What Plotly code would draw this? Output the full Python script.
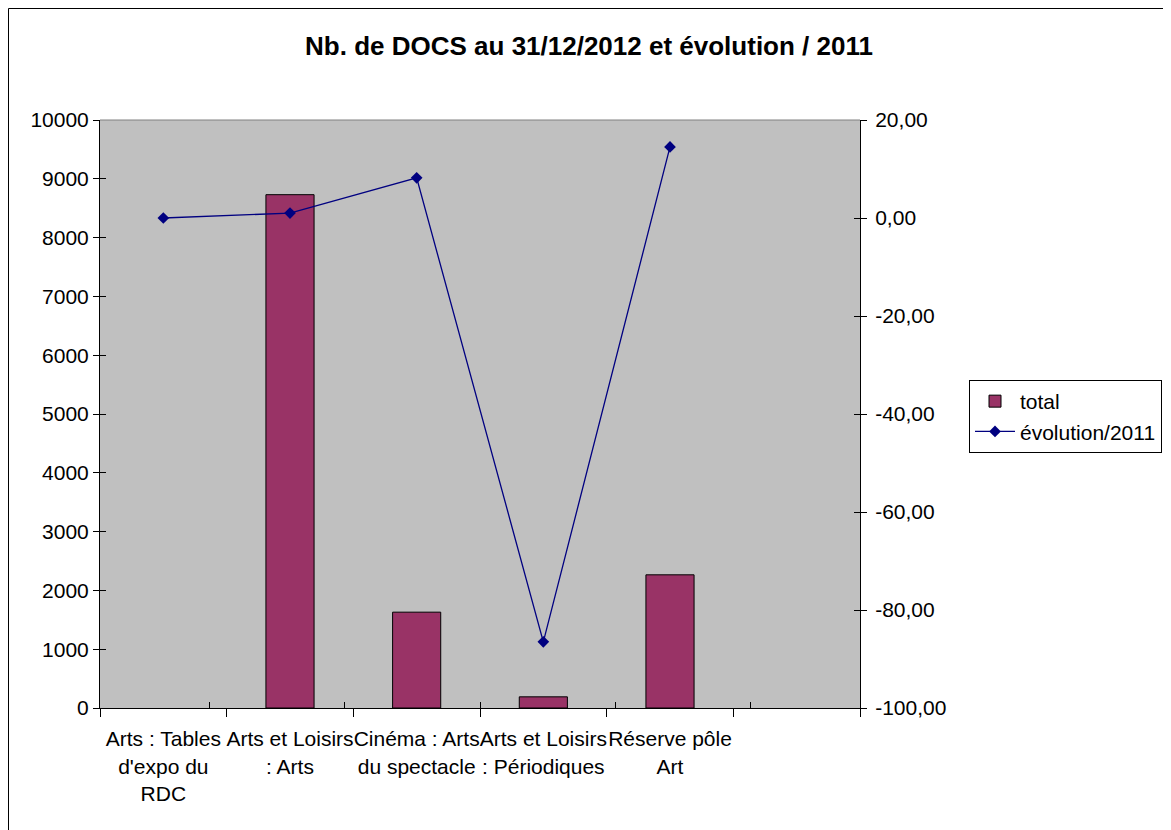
import plotly.graph_objects as go

categories = [
    "Arts : Tables<br>d'expo du<br>RDC",
    "Arts et Loisirs<br>: Arts",
    "Cinéma : Arts<br>du spectacle",
    "Arts et Loisirs<br>: Périodiques",
    "Réserve pôle<br>Art",
    " ",
]
total = [None, 8730, 1630, 190, 2265, None]
evolution = [0.0, 1.0, 8.2, -86.5, 14.5, None]
right_ticks = [-100, -80, -60, -40, -20, 0, 20]
right_labels = ["-100,00", "-80,00", "-60,00", "-40,00", "-20,00", "0,00", "20,00"]

FONT = "Liberation Sans, Arial, sans-serif"
W, H = 1171, 830
# the page body adds an 8px offset, so targets are shifted back by 8
OFF = 8
L, T = 100 - OFF, 120 - OFF
R, B = W - (860 - OFF), H - (708 - OFF)
plot_w = W - L - R
plot_h = H - T - B

fig = go.Figure()
fig.add_trace(go.Bar(
    name="total",
    x=categories,
    y=total,
    marker=dict(color="#993366", line=dict(color="black", width=1)),
))
fig.add_trace(go.Scatter(
    name="évolution/2011",
    x=categories,
    y=evolution,
    yaxis="y2",
    mode="lines+markers",
    line=dict(color="#000080", width=1.3),
    marker=dict(symbol="diamond", size=9, color="#000080"),
))
# invisible helpers so the inner-tick axes get drawn
fig.add_trace(go.Scatter(x=categories, y=[None] * len(categories),
                         xaxis="x2", yaxis="y3", showlegend=False,
                         hoverinfo="skip", mode="markers"))
fig.add_trace(go.Scatter(x=categories, y=[None] * len(categories),
                         yaxis="y4", showlegend=False,
                         hoverinfo="skip", mode="markers"))

axis_common = dict(
    ticks="outside",
    ticklen=6,
    tickcolor="black",
    showline=True,
    linecolor="black",
    showgrid=False,
    zeroline=False,
)
inner_ticks = dict(
    ticks="inside",
    ticklen=6,
    tickcolor="black",
    showticklabels=False,
    showline=False,
    showgrid=False,
    zeroline=False,
)

fig.update_layout(
    width=W,
    height=H,
    separators=", ",
    paper_bgcolor="white",
    plot_bgcolor="#C0C0C0",
    font=dict(family=FONT, size=21, color="black"),
    margin=dict(l=L, r=R, t=T, b=B),
    bargap=0.62,
    title=dict(
        text="<b>Nb. de DOCS au 31/12/2012 et évolution / 2011</b>",
        x=(589 - OFF) / W, xref="container", xanchor="center",
        y=1 - (46 - OFF) / H, yref="container", yanchor="middle",
        font=dict(family=FONT, size=26),
    ),
    xaxis=dict(
        type="category",
        tickson="boundaries",
        tickangle=0,
        ticks="outside",
        ticklen=8,
        tickcolor="black",
        showline=True,
        linecolor="black",
        showgrid=False,
        ticklabelstandoff=12,
    ),
    xaxis2=dict(type="category", overlaying="x", side="bottom",
                tickson="boundaries", anchor="y3", **inner_ticks),
    yaxis=dict(range=[0, 10000], dtick=1000, tickformat="d", **axis_common),
    yaxis2=dict(overlaying="y", side="right", range=[-100, 20],
                tickvals=right_ticks, ticktext=right_labels,
                ticklabelstandoff=4, **axis_common),
    yaxis3=dict(range=[0, 10000], dtick=1000, side="left", overlaying="y",
                **inner_ticks),
    yaxis4=dict(range=[-100, 20], dtick=20, side="right", overlaying="y",
                **inner_ticks),
    legend=dict(
        x=(969 - OFF - L) / plot_w,
        y=(H - B - (380 - OFF)) / plot_h,
        xanchor="left", yanchor="top",
        bgcolor="white",
        bordercolor="black",
        borderwidth=1,
        font=dict(size=21),
        itemwidth=40,
    ),
    showlegend=True,
)

# top border of plot area (grey) and outer chart border
fig.add_shape(type="line", xref="paper", yref="paper",
              x0=0, x1=1, y0=1, y1=1, line=dict(color="#808080", width=1))
fig.add_shape(type="rect", xref="paper", yref="paper",
              x0=(0.5 - L) / plot_w, x1=(W + 20 - L) / plot_w,
              y0=(H - B - (H + 20)) / plot_h, y1=(H - B - 0.5) / plot_h,
              line=dict(color="black", width=1), layer="below")

fig.write_html("out.html")
